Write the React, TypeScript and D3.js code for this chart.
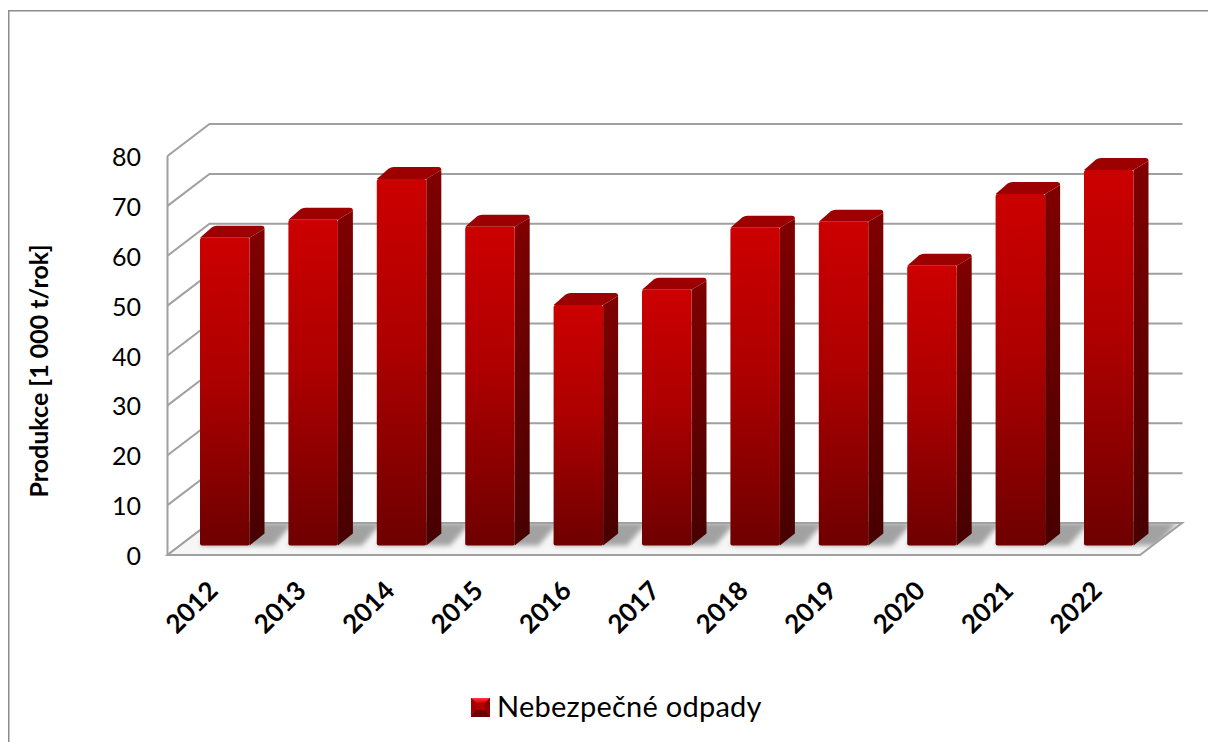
import React from "react";
import * as d3 from "d3";

const years = ["2012","2013","2014","2015","2016","2017","2018","2019","2020","2021","2022"];
const production = [61.7,65.3,73.5,63.9,48.2,51.3,63.7,64.9,56.1,70.5,75.3];
const yTicks = [0,10,20,30,40,50,60,70,80];
const yTitle = "Produkce [1 000 t/rok]";
const seriesName = "Nebezpečné odpady";

const W = 1208, H = 742;
const FL = 167.5, FR = 1140, Y0 = 555, Y80 = 156, DX = 42, DY = 32;
const BAR_BASE = 545.5, BAR_W = 49.5, DEPTH_X = 15, DEPTH_Y = 12;
const FONT = "Lato, 'Open Sans', sans-serif";
const GRID = "#a0a0a0";

const yAxis = d3.scaleLinear().domain([0, 80]).range([Y0, Y80]);
const yBar = d3.scaleLinear().domain([0, 80]).range([BAR_BASE, BAR_BASE - (Y0 - Y80)]);
const xBand = d3.scaleBand<string>().domain(years).range([200, 1133.5]).paddingInner(0.44).paddingOuter(0);

export default function App() {
  return (
    <svg width={W} height={H} style={{ position: "absolute", left: 0, top: 0 }} xmlns="http://www.w3.org/2000/svg">
      <defs>
        <linearGradient id="front" x1="0" y1="0" x2="0" y2="1">
          <stop offset="0" stopColor="#cc0000" />
          <stop offset="0.45" stopColor="#ae0000" />
          <stop offset="1" stopColor="#6e0000" />
        </linearGradient>
        <linearGradient id="side" x1="0" y1="0" x2="0" y2="1">
          <stop offset="0" stopColor="#800000" />
          <stop offset="1" stopColor="#470000" />
        </linearGradient>
        <linearGradient id="legTop" x1="0" y1="0" x2="0" y2="1">
          <stop offset="0" stopColor="#ff3a3a" />
          <stop offset="1" stopColor="#c80000" />
        </linearGradient>
        <filter id="blur" x="-30%" y="-60%" width="160%" height="220%">
          <feGaussianBlur stdDeviation="2.5" />
        </filter>
        <clipPath id="floorClip">
          <path d={`M${FL},${Y0 - 1}L${FL + DX},${Y0 - DY}H${FR + DX}L${FR},${Y0 - 1}Z`} />
        </clipPath>
      </defs>

      <rect x={8.75} y={10.75} width={W} height={H} fill="#fff" stroke="#8c8c8c" strokeWidth={1.5} />

      {/* walls */}
      <g fill="none" stroke={GRID} strokeWidth={2}>
        <line x1={FL} y1={Y80} x2={FL} y2={Y0} />
        {yTicks.map((t) => (
          <path key={t} d={`M${FL},${yAxis(t)}L${FL + DX},${yAxis(t) - DY}H${FR + DX + 0.5}`} />
        ))}
      </g>

      {/* floor */}
      <path d={`M${FL},${Y0}L${FL + DX},${Y0 - DY}H${FR + DX}L${FR},${Y0}Z`} fill="#f6f6f6" stroke={GRID} strokeWidth={2} />

      {/* floor shadows */}
      <g clipPath="url(#floorClip)">
        <g filter="url(#blur)" fill="#a2a2a2">
          {years.map((y) => {
            const x = xBand(y)!;
            return (
              <path key={y} d={`M${x},${BAR_BASE}L${x + 15},${BAR_BASE - 23}H${x + BAR_W + 44}L${x + BAR_W + 24},${BAR_BASE}Z`} />
            );
          })}
        </g>
      </g>

      {/* bars */}
      {years.map((y, i) => {
        const x = xBand(y)!;
        const top = yBar(production[i]);
        const r = x + BAR_W;
        return (
          <g key={y}>
            <path
              d={`M${x},${top}L${x + DEPTH_X - 3},${top - DEPTH_Y + 1.5}Q${x + DEPTH_X - 1},${top - DEPTH_Y} ${x + DEPTH_X + 2},${top - DEPTH_Y}H${r + DEPTH_X - 3}Q${r + DEPTH_X},${top - DEPTH_Y} ${r + DEPTH_X},${top - DEPTH_Y + 3}L${r},${top}Z`}
              fill="#9c0000"
            />
            <path
              d={`M${r},${top}L${r + DEPTH_X},${top - DEPTH_Y + 3}V${BAR_BASE - DEPTH_Y}L${r},${BAR_BASE}Z`}
              fill="url(#side)"
            />
            <rect x={x} y={top} width={BAR_W} height={BAR_BASE - top} rx={2} fill="url(#front)" />
          </g>
        );
      })}

      {/* y labels */}
      <g fontFamily={FONT} fontSize={25} fill="#000" textAnchor="end">
        {yTicks.map((t) => (
          <text key={t} x={141} y={yAxis(t) + 10}>{t}</text>
        ))}
      </g>

      {/* x labels */}
      <g fontFamily={FONT} fontSize={26} fontWeight={700} fill="#000" textAnchor="end">
        {years.map((y) => {
          const cx = xBand(y)! + 13;
          return (
            <text key={y} transform={`translate(${cx},${586}) rotate(-45)`} x={0} y={9}>{y}</text>
          );
        })}
      </g>

      <text transform="translate(48,371) rotate(-90)" textAnchor="middle" fontFamily={FONT} fontSize={25} fontWeight={700} fill="#000">
        {yTitle}
      </text>

      {/* legend */}
      <g>
        <rect x={471} y={698} width={19} height={19} fill="#b00000" />
        <path d="M471,698H490L485,703H476Z" fill="url(#legTop)" />
        <path d="M471,717H490L485,710H476Z" fill="#6a0000" />
        <path d="M471,698V717L476,710V703Z" fill="#a00000" />
        <path d="M490,698V717L485,710V703Z" fill="#8c0000" />
        <text x={497} y={717} fontFamily={FONT} fontSize={29} letterSpacing={0.25} fill="#000">{seriesName}</text>
      </g>
    </svg>
  );
}
